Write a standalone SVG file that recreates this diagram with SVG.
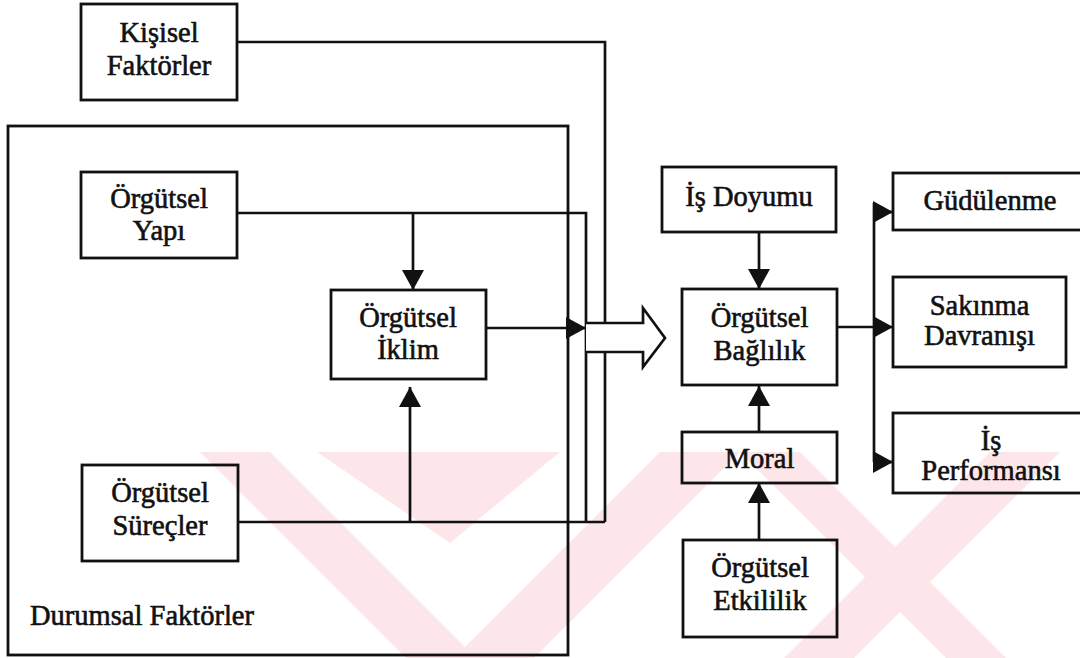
<svg xmlns="http://www.w3.org/2000/svg" width="1080" height="658" viewBox="0 0 1080 658">
  <defs>
    <style>
      .box { fill: none; stroke: #111; stroke-width: 2.8; }
      .wire { fill: none; stroke: #111; stroke-width: 2.7; }
      .lbl { font-family: 'Liberation Serif', 'DejaVu Serif', serif; font-size: 28.5px; fill: #111; stroke: #111; stroke-width: 0.6; text-anchor: middle; }
      .lbl-left { text-anchor: start; }
      .wm { fill: #fde6ea; }
    </style>
    <marker id="ah" markerUnits="userSpaceOnUse" viewBox="0 0 20 22" markerWidth="20" markerHeight="22" refX="20" refY="11" orient="auto">
      <path d="M0,0 L20,11 L0,22 z" fill="#111"/>
    </marker>
  </defs>

  <rect width="1080" height="658" fill="#fff"/>

  <!-- background seal -->
  <g id="seal">
    <polygon class="wm" points="200,452 270,452 476,658 406,658"/>
    <polygon class="wm" points="317,452 560,452 450,543"/>
    <polygon class="wm" points="660,452 740,452 534,658 454,658"/>
    <polygon class="wm" points="740,452 800,452 1006,658 946,658"/>
    <polygon class="wm" points="990,452 1060,452 854,658 784,658"/>
  </g>

  <!-- frame of the situational factors -->
  <g id="durumsal">
    <rect class="box" x="8" y="126" width="560" height="529"/>
    <text class="lbl lbl-left" x="30" y="625">Durumsal Faktörler</text>
  </g>

  <g id="connectors">
    <polyline class="wire" points="237,42 605,42 605,522"/>
    <polyline class="wire" points="237,213 586,213 586,522"/>
    <line class="wire" x1="413" y1="213" x2="413" y2="290" marker-end="url(#ah)"/>
    <line class="wire" x1="486" y1="328" x2="586" y2="328" marker-end="url(#ah)"/>
    <line class="wire" x1="238" y1="522" x2="605" y2="522"/>
    <line class="wire" x1="410" y1="522" x2="410" y2="387" marker-end="url(#ah)"/>
    <polyline class="wire" points="586,323 643,323 643,308 665,338 643,367 643,352 586,352" style="fill:#fff"/>
    <line class="wire" x1="759" y1="232" x2="759" y2="289" marker-end="url(#ah)"/>
    <line class="wire" x1="759" y1="432" x2="759" y2="386" marker-end="url(#ah)"/>
    <line class="wire" x1="759" y1="540" x2="759" y2="483" marker-end="url(#ah)"/>
    <line class="wire" x1="837" y1="327" x2="893" y2="327" marker-end="url(#ah)"/>
    <line class="wire" x1="874" y1="203" x2="874" y2="462"/>
    <line class="wire" x1="874" y1="212" x2="893" y2="212" marker-end="url(#ah)"/>
    <line class="wire" x1="874" y1="462" x2="893" y2="462" marker-end="url(#ah)"/>
  </g>

  <g id="kisisel">
    <rect class="box" x="81" y="4" width="156" height="96"/>
    <text class="lbl" x="159" y="42">Kişisel</text>
    <text class="lbl" x="159" y="75">Faktörler</text>
  </g>

  <g id="yapi">
    <rect class="box" x="81" y="172" width="156" height="86"/>
    <text class="lbl" x="159" y="208">Örgütsel</text>
    <text class="lbl" x="159" y="240">Yapı</text>
  </g>

  <g id="surecler">
    <rect class="box" x="82" y="465" width="156" height="96"/>
    <text class="lbl" x="160" y="502">Örgütsel</text>
    <text class="lbl" x="160" y="535">Süreçler</text>
  </g>

  <g id="iklim">
    <rect class="box" x="331" y="290" width="155" height="89"/>
    <text class="lbl" x="408" y="327">Örgütsel</text>
    <text class="lbl" x="408" y="359">İklim</text>
  </g>

  <g id="is-doyumu">
    <rect class="box" x="662" y="167" width="174" height="65"/>
    <text class="lbl" x="749" y="206">İş Doyumu</text>
  </g>

  <g id="baglilik">
    <rect class="box" x="682" y="289" width="155" height="96"/>
    <text class="lbl" x="759.5" y="327">Örgütsel</text>
    <text class="lbl" x="759.5" y="360">Bağlılık</text>
  </g>

  <g id="moral">
    <rect class="box" x="682" y="432" width="155" height="51"/>
    <text class="lbl" x="759.5" y="468">Moral</text>
  </g>

  <g id="etkililik">
    <rect class="box" x="683" y="540" width="154" height="97"/>
    <text class="lbl" x="760" y="577">Örgütsel</text>
    <text class="lbl" x="760" y="610">Etkililik</text>
  </g>

  <g id="gudulenme">
    <rect class="box" x="893" y="173" width="200" height="57"/>
    <text class="lbl" x="990" y="210">Güdülenme</text>
  </g>

  <g id="sakinma">
    <rect class="box" x="893" y="277" width="173" height="90"/>
    <text class="lbl" x="979.5" y="315">Sakınma</text>
    <text class="lbl" x="979.5" y="345">Davranışı</text>
  </g>

  <g id="performans">
    <rect class="box" x="893" y="413" width="200" height="80"/>
    <text class="lbl" x="991" y="450">İş</text>
    <text class="lbl" x="991" y="480">Performansı</text>
  </g>
</svg>
